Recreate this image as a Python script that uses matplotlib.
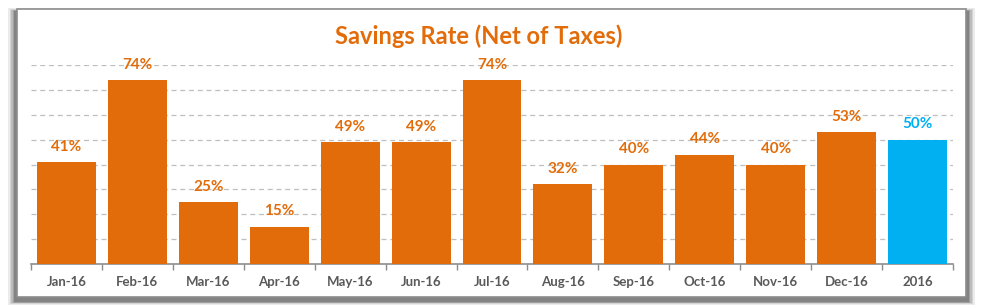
import numpy as np
import matplotlib.pyplot as plt
from matplotlib.patches import Rectangle

# Data
months = ['Jan-16', 'Feb-16', 'Mar-16', 'Apr-16', 'May-16', 'Jun-16', 'Jul-16',
          'Aug-16', 'Sep-16', 'Oct-16', 'Nov-16', 'Dec-16', '2016']
rates = [0.41, 0.74, 0.25, 0.15, 0.49, 0.49, 0.74, 0.32, 0.40, 0.44, 0.40, 0.53, 0.50]

orange = '#E36C0A'
blue = '#00B0F0'
colors = [orange] * 12 + [blue]

plt.rcParams['font.family'] = ['Lato', 'DejaVu Sans']

fig = plt.figure(figsize=(9.84, 3.08), dpi=100)
W, H = 984, 308

# soft shadow + chart frame
for i, a in enumerate([0.10, 0.13, 0.17, 0.22, 0.3]):
    d = 9 - i * 1.6
    fig.patches.append(Rectangle(((17 - d) / W, (308 - 305 + i * 0.8) / H),
                                 (966 - 17 + 2 * d) / W, (297 - 9 + d) / H,
                                 transform=fig.transFigure, facecolor='#404040',
                                 edgecolor='none', alpha=a, zorder=0))
fig.patches.append(Rectangle((17 / W, (308 - 297) / H), (966 - 17) / W, (297 - 9) / H,
                             transform=fig.transFigure, facecolor='white',
                             edgecolor='#8C8C8C', linewidth=1.2, zorder=1))

ax = fig.add_axes([31 / W, 44 / H, 922 / W, 199 / H])
ax.set_zorder(2)
ax.patch.set_visible(False)

x = np.arange(len(months))
bars = ax.bar(x, rates, width=0.83, color=colors, zorder=3)

for xi, v, c in zip(x, rates, colors):
    ax.text(xi, v + 0.033, f'{v:.0%}', ha='center', va='bottom', color=c,
            fontsize=11, fontweight='bold', clip_on=False)

ax.set_xlim(-0.5, len(months) - 0.5)
ax.set_ylim(0, 0.8)
ax.set_yticks(np.arange(0.1, 0.81, 0.1))
ax.yaxis.grid(True, linestyle=(0, (4, 3)), color='#BFBFBF', linewidth=0.9)
ax.tick_params(axis='y', length=0, labelleft=False)

ax.set_xticks(x)
ax.set_xticklabels(months, fontsize=9.5, fontweight='bold', color='#595959')
ax.tick_params(axis='x', length=0, pad=9)
ax.set_xticks(np.arange(-0.5, len(months)), minor=True)
ax.tick_params(axis='x', which='minor', length=4, color='#8C8C8C', width=1)

for s in ['top', 'right', 'left']:
    ax.spines[s].set_visible(False)
ax.spines['bottom'].set_color('#8C8C8C')
ax.spines['bottom'].set_linewidth(1.2)

fig.text(479 / W, (308 - 36) / H, 'Savings Rate (Net of Taxes)', ha='center',
         va='center', color=orange, fontsize=17, fontweight='bold')

fig.savefig('out.png', dpi=100)
